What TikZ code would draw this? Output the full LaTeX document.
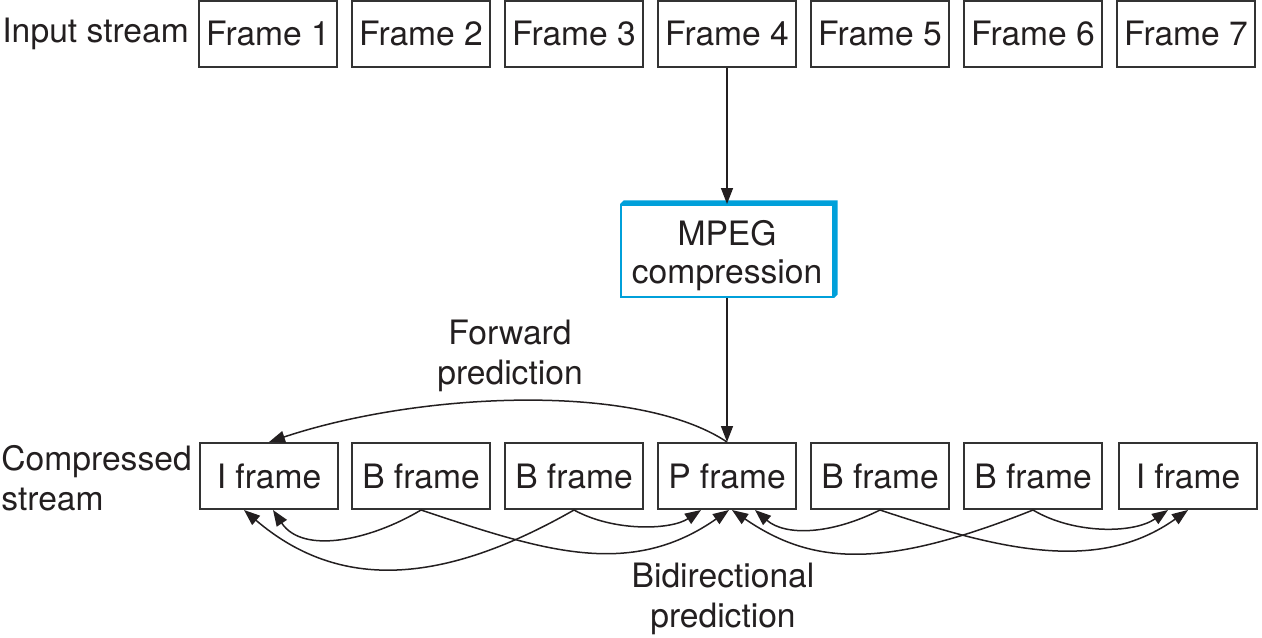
\documentclass[tikz,border=0pt]{standalone}
\usepackage{fontspec}
\setmainfont{TeX Gyre Heros}
\usepackage{tikz}
\usetikzlibrary{arrows.meta,shapes}

\begin{document}
\begin{tikzpicture}[>={Triangle[length=8pt,width=6pt]},x=0.5pt,y=-0.5pt]

\definecolor{ftxt}{HTML}{231F20} % near black
\definecolor{fbox}{HTML}{333333} % dark grey
\definecolor{mbox}{HTML}{00A0DA} % cyan blue

\tikzstyle{lbl}=[text=ftxt,font=\fontsize{16.8}{20}\selectfont,
	align=center,inner sep=0pt]

\tikzstyle{frame}=[lbl,rectangle,draw=fbox,fill=white,
	line width=1pt,minimum width=69pt,minimum height=33pt]

\tikzstyle{mpeg}=[rectangle,draw=mbox,fill=white,
	line width=1pt,minimum width=106pt,minimum height=46pt]

\tikzstyle{flow}=[->,draw=ftxt,line width=0.75pt]
\tikzstyle{pred}=[->,draw=ftxt,line width=0.75pt]

  \useasboundingbox (0,0) rectangle (1262,637);

  \node  (in)  at (2,34)    [lbl,anchor=west]  {Input stream};
  \node  (cs)  at (1,478)   [lbl,anchor=west,align=left] {Compressed\\stream};

  \node  (f1)  at (268,34)   [frame]  {Frame 1};
  \node  (f2)  at (421,34)   [frame]  {Frame 2};
  \node  (f3)  at (574,34)   [frame]  {Frame 3};
  \node  (f4)  at (727,34)   [frame]  {Frame 4};
  \node  (f5)  at (880,34)   [frame]  {Frame 5};
  \node  (f6)  at (1033,34)  [frame]  {Frame 6};
  \node  (f7)  at (1186,34)  [frame]  {Frame 7};

  \node  (m)   at (727,251)  [mpeg]   {};
  \fill [mbox] (m.north west) -- ([xshift=1.8pt,yshift=1.8pt]m.north west)
        -- ([xshift=1.8pt,yshift=1.8pt]m.north east)
        -- ([xshift=1.8pt,yshift=1.8pt]m.south east)
        -- (m.south east) -- (m.north east) -- cycle;
  \node  (mt)  at (727,256)  [lbl]    {MPEG\\[-1pt]compression};

  \node  (i1)  at (269,476)  [frame]  {I frame};
  \node  (b2)  at (421,476)  [frame]  {B frame};
  \node  (b3)  at (574,476)  [frame]  {B frame};
  \node  (p4)  at (727,476)  [frame]  {P frame};
  \node  (b5)  at (880,476)  [frame]  {B frame};
  \node  (b6)  at (1033,476) [frame]  {B frame};
  \node  (i7)  at (1188,476) [frame]  {I frame};

  \node  (fw)  at (510,356)  [lbl]    {Forward\\prediction};
  \node  (bd)  at (723,599)  [lbl]    {Bidirectional\\prediction};

  \draw [flow] (f4.south) -- (m.north);
  \draw [flow] (m.south) -- (p4.north);

  \draw [pred] (p4.north) .. controls +(-90,-60) and +(150,-50) .. (i1.north);

  \draw [pred] (b2.south) .. controls +(-50,30) and +(30,45) .. ([xshift=2pt]i1.south);
  \draw [pred] (b3.south) .. controls +(-140,80) and +(90,77) .. ([xshift=-12.5pt]i1.south);
  \draw [pred] (b2.south) .. controls +(120,40) and +(-100,70) .. ([xshift=1pt]p4.south);
  \draw [pred] (b3.south) .. controls +(40,22) and +(-30,20) .. ([xshift=-13pt]p4.south);

  \draw [pred] (b5.south) .. controls +(-50,25) and +(30,26) .. ([xshift=14pt]p4.south);
  \draw [pred] (b6.south) .. controls +(-150,60) and +(80,55) .. ([xshift=2.5pt]p4.south);
  \draw [pred] (b5.south) .. controls +(120,40) and +(-90,64) .. (i7.south);
  \draw [pred] (b6.south) .. controls +(40,24) and +(-35,24) .. ([xshift=-10pt]i7.south);

\end{tikzpicture}
\end{document}
